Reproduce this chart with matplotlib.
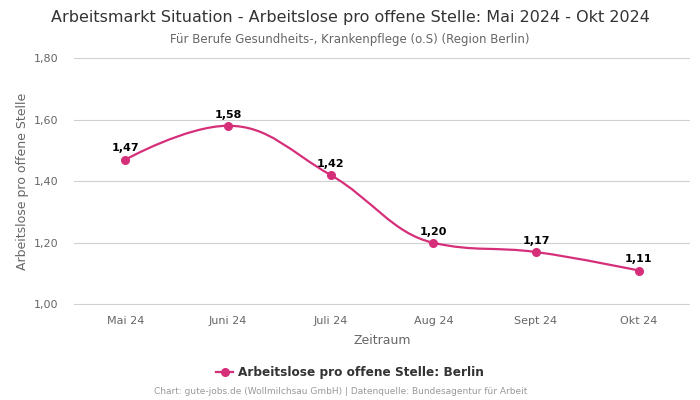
#!/usr/bin/env python3
# -*- coding: utf-8 -*-
"""Arbeitslose pro offene Stelle, Berlin, Mai 2024 - Okt 2024."""
import numpy as np
import matplotlib
matplotlib.use("Agg")
import matplotlib.pyplot as plt
from matplotlib.path import Path
from matplotlib.patches import PathPatch
from matplotlib.lines import Line2D

months = ["Mai 24", "Juni 24", "Juli 24", "Aug 24", "Sept 24", "Okt 24"]
values = [1.47, 1.58, 1.42, 1.20, 1.17, 1.11]
yticks = [1.00, 1.20, 1.40, 1.60, 1.80]

PINK = "#d62f7a"
GRID = "#d0d0d0"
TXT = "#666666"


def spline_path(xs, ys, smoothing=1.5):
    # spline segments through the points (cubic bezier, spline-style smoothing)
    n = len(xs)
    left, right = [None] * n, [None] * n
    for i in range(n):
        if i == 0 or i == n - 1:
            left[i] = right[i] = (xs[i], ys[i])
            continue
        d = smoothing + 1
        lx = (smoothing * xs[i] + xs[i - 1]) / d
        ly = (smoothing * ys[i] + ys[i - 1]) / d
        rx = (smoothing * xs[i] + xs[i + 1]) / d
        ry = (smoothing * ys[i] + ys[i + 1]) / d
        if rx != lx:
            corr = (ry - ly) * (rx - xs[i]) / (rx - lx) + ys[i] - ry
            ly += corr
            ry += corr
        if ly > ys[i - 1] and ly > ys[i]:
            ly = max(ys[i - 1], ys[i]); ry = 2 * ys[i] - ly
        elif ly < ys[i - 1] and ly < ys[i]:
            ly = min(ys[i - 1], ys[i]); ry = 2 * ys[i] - ly
        if ry > ys[i + 1] and ry > ys[i]:
            ry = max(ys[i + 1], ys[i]); ly = 2 * ys[i] - ry
        elif ry < ys[i + 1] and ry < ys[i]:
            ry = min(ys[i + 1], ys[i]); ly = 2 * ys[i] - ry
        left[i], right[i] = (lx, ly), (rx, ry)
    verts = [(xs[0], ys[0])]
    codes = [Path.MOVETO]
    for i in range(1, n):
        verts += [right[i - 1], left[i], (xs[i], ys[i])]
        codes += [Path.CURVE4] * 3
    return Path(verts, codes)


fig = plt.figure(figsize=(7, 4), dpi=100)
ax = fig.add_axes([0.1057, 0.2375, 0.88, 0.6175])

x = np.arange(len(months))
ax.add_patch(PathPatch(spline_path(x, values), fc="none", ec=PINK, lw=1.6,
                       zorder=3))
ax.plot(x, values, ls="none", marker="o", ms=5.5, color=PINK, zorder=4)
for xi, v in zip(x, values):
    ax.annotate(f"{v:.2f}".replace(".", ","), (xi, v), xytext=(0, 4.5),
                textcoords="offset points", ha="center", va="bottom",
                fontsize=8, fontweight="bold", color="black")

ax.set_xlim(-0.5, len(months) - 0.5)
ax.set_ylim(0.998, 1.8)
ax.set_yticks(yticks)
ax.set_yticklabels([f"{t:.2f}".replace(".", ",") for t in yticks])
ax.set_xticks(x)
ax.set_xticklabels(months)
ax.tick_params(axis="both", length=0, labelsize=8, labelcolor=TXT)
ax.tick_params(axis="x", pad=8)
ax.tick_params(axis="y", pad=11)
ax.grid(axis="y", color=GRID, lw=0.8)
ax.set_axisbelow(True)
for s in ax.spines.values():
    s.set_visible(False)
ax.set_xlabel("Zeitraum", fontsize=9, color=TXT, labelpad=6)
ax.set_ylabel("Arbeitslose pro offene Stelle", fontsize=9, color=TXT,
              labelpad=4)

fig.text(0.5, 0.957, "Arbeitsmarkt Situation - Arbeitslose pro offene Stelle: "
         "Mai 2024 - Okt 2024", ha="center", va="center", fontsize=11.5,
         color="#333333")
fig.text(0.5, 0.902, "Für Berufe Gesundheits-, Krankenpflege (o.S) (Region Berlin)",
         ha="center", va="center", fontsize=8.5, color=TXT)

handle = Line2D([], [], color=PINK, marker="o", ms=5.5, lw=1.6)
fig.legend([handle], ["Arbeitslose pro offene Stelle: Berlin"],
           loc="center", bbox_to_anchor=(0.5, 0.068), frameon=False,
           handlelength=1.4, handletextpad=0.4,
           prop={"size": 8.7, "weight": "bold"}, labelcolor="#333333")
fig.text(0.486, 0.02, "Chart: gute-jobs.de (Wollmilchsau GmbH) | Datenquelle: "
         "Bundesagentur für Arbeit", ha="center", va="center", fontsize=6.5,
         color="#999999")

fig.savefig("out.png", dpi=100)
